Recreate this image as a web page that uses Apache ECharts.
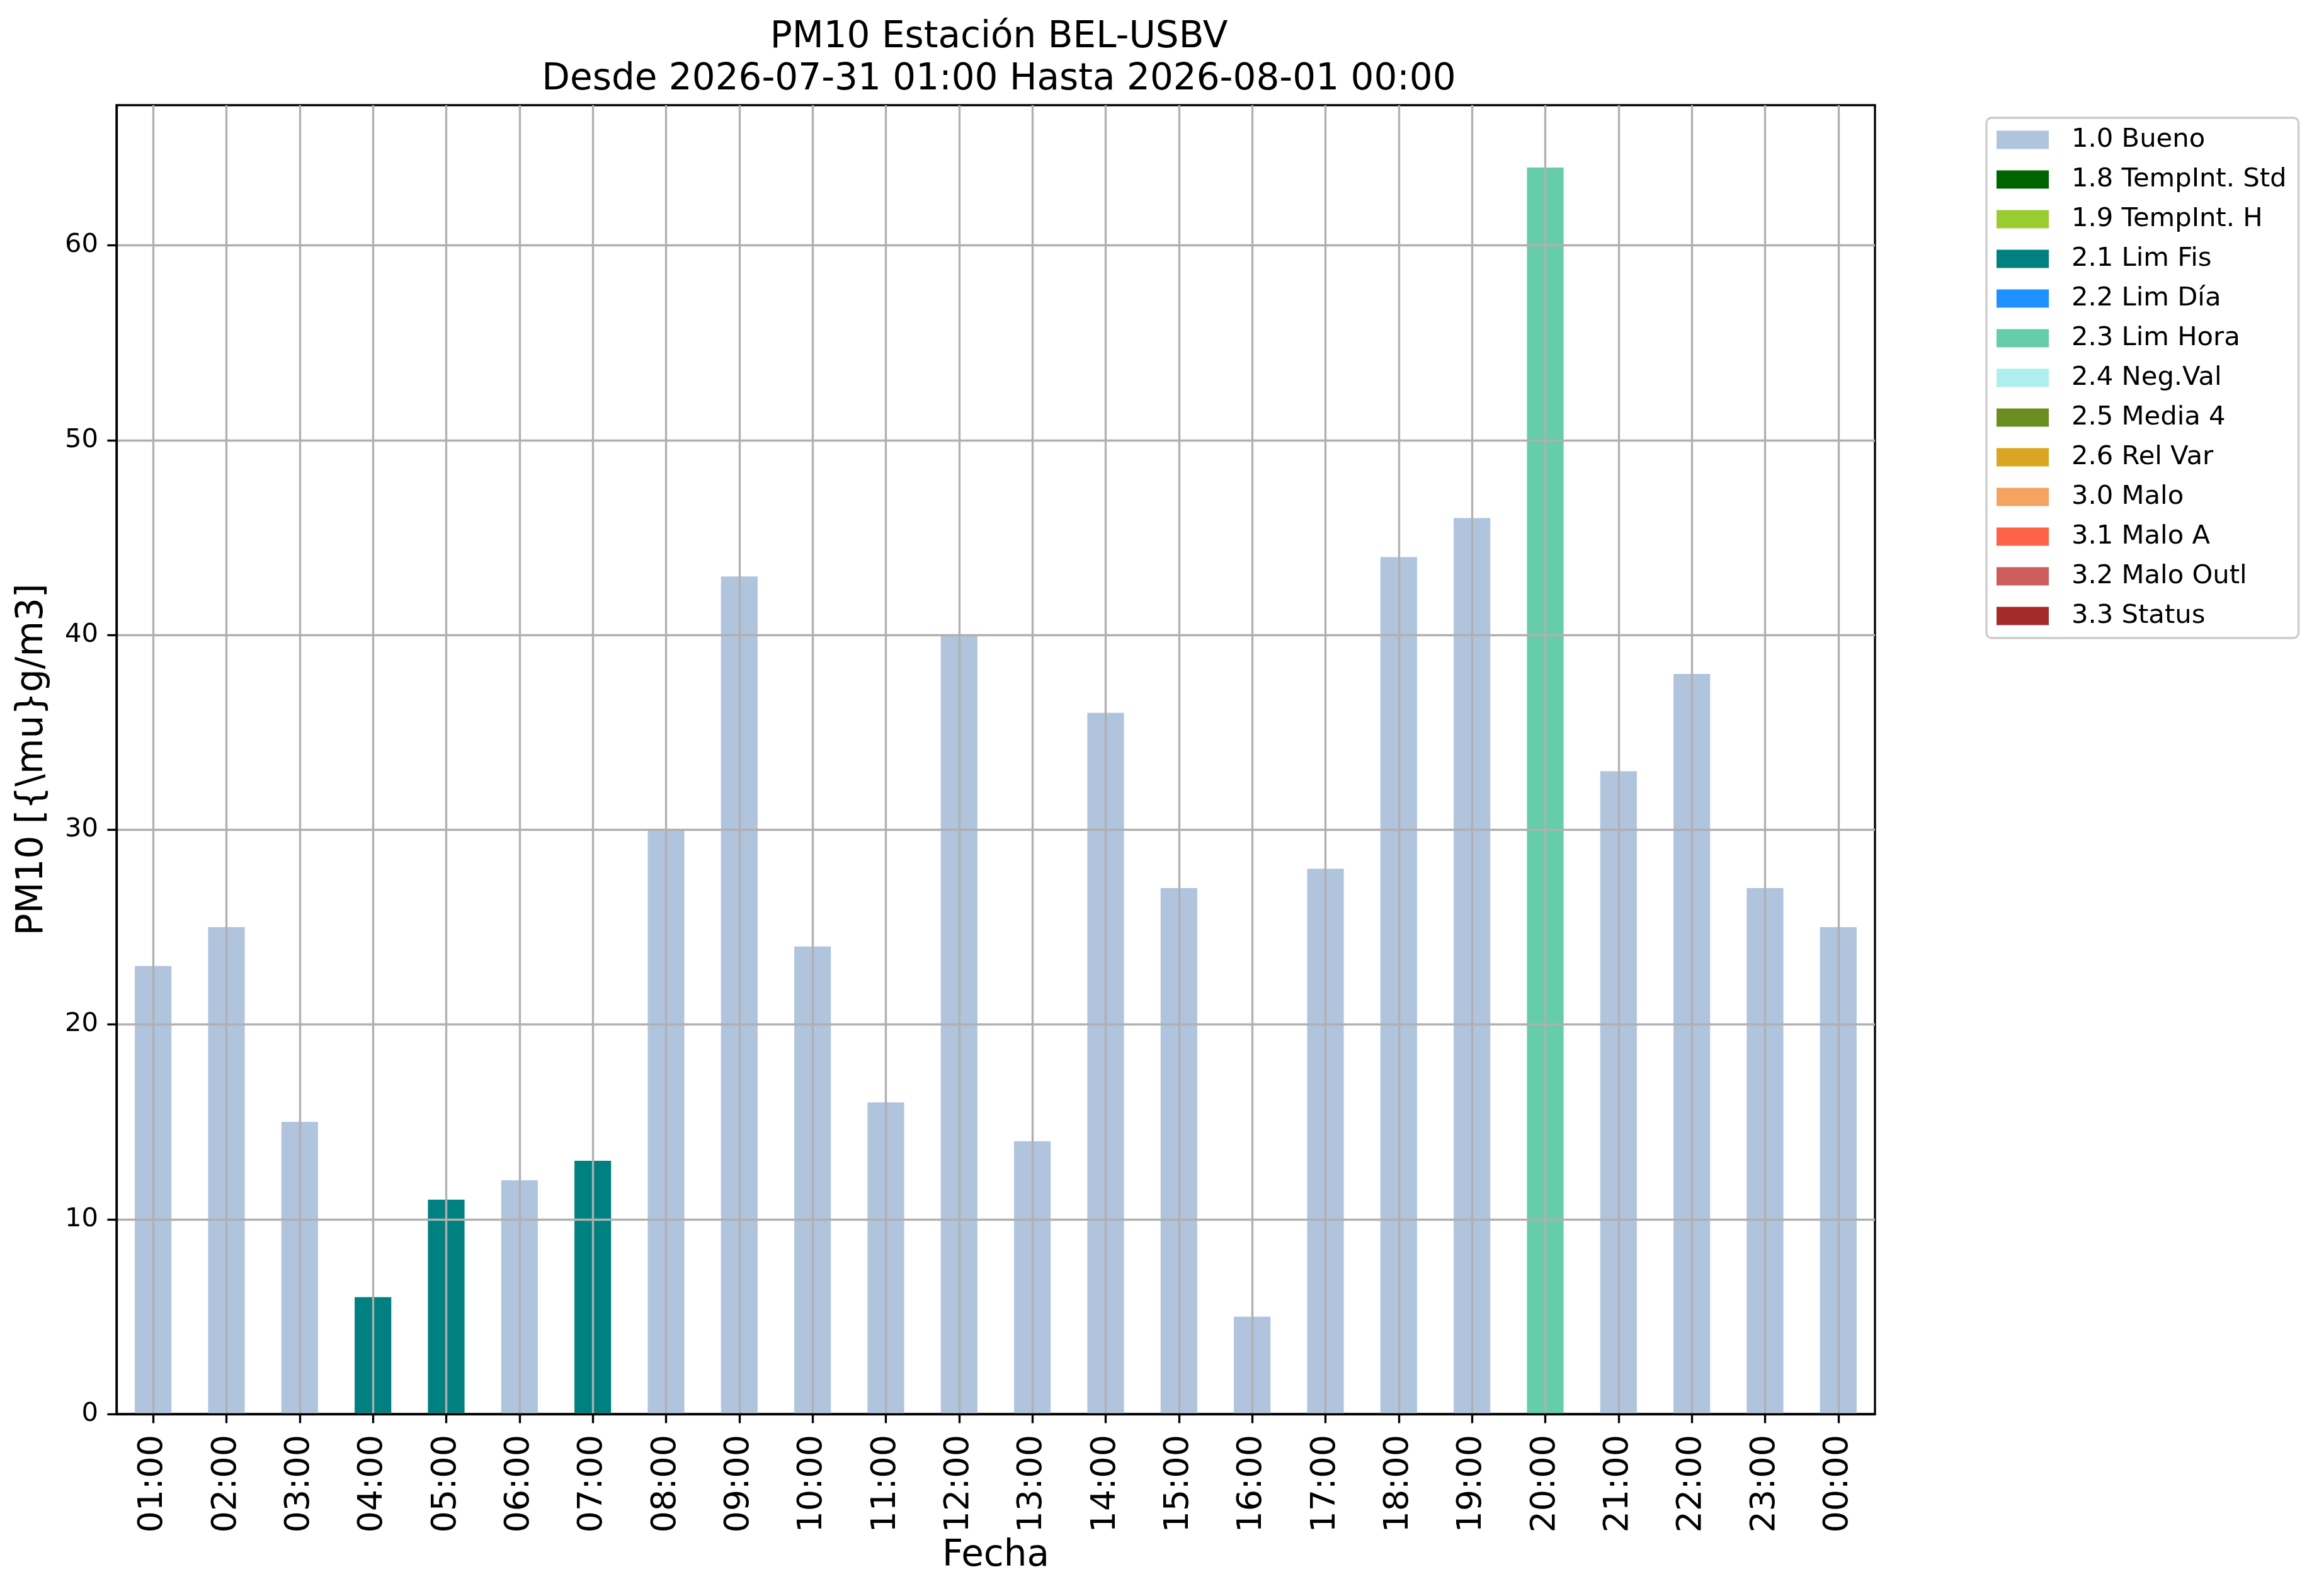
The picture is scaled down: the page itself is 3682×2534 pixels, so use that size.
<!DOCTYPE html>
<html>
<head>
<meta charset="utf-8">
<script src="https://cdn.jsdelivr.net/npm/echarts@6/dist/echarts.min.js"></script>
<style>
html,body{margin:0;padding:0;background:#fff;}
#chart{width:3682px;height:2534px;}
</style>
</head>
<body>
<div id="chart"></div>
<script>
const categories = ['01:00','02:00','03:00','04:00','05:00','06:00','07:00','08:00','09:00','10:00','11:00','12:00','13:00','14:00','15:00','16:00','17:00','18:00','19:00','20:00','21:00','22:00','23:00','00:00'];
const values = [23,25,15,6,11,12,13,30,43,24,16,40,14,36,27,5,28,44,46,64,33,38,27,25];
const flags = ['1.0 Bueno','1.0 Bueno','1.0 Bueno','2.1 Lim Fis','2.1 Lim Fis','1.0 Bueno','2.1 Lim Fis','1.0 Bueno','1.0 Bueno','1.0 Bueno','1.0 Bueno','1.0 Bueno','1.0 Bueno','1.0 Bueno','1.0 Bueno','1.0 Bueno','1.0 Bueno','1.0 Bueno','1.0 Bueno','2.3 Lim Hora','1.0 Bueno','1.0 Bueno','1.0 Bueno','1.0 Bueno'];
const flagNames = ['1.0 Bueno','1.8 TempInt. Std','1.9 TempInt. H','2.1 Lim Fis','2.2 Lim Día','2.3 Lim Hora','2.4 Neg.Val','2.5 Media 4','2.6 Rel Var','3.0 Malo','3.1 Malo A','3.2 Malo Outl','3.3 Status'];
const flagColors = ['#B0C4DE','#006400','#9ACD32','#008080','#1E90FF','#66CDAA','#AFEEEE','#6B8E23','#DAA520','#F4A460','#FF6347','#CD5C5C','#A52A2A'];
const yTicks = [0,10,20,30,40,50,60];
const xPositions = categories.map((c,i)=>i);
const titleText = 'PM10 Estación BEL-USBV\nDesde 2026-07-31 01:00 Hasta 2026-08-01 00:00';
const yName = 'PM10 [{\\mu}g/m3]';
const xName = 'Fecha';

const FONT = 'DejaVu Sans';
const LW = 3.33;
const chart = echarts.init(document.getElementById('chart'), null, {renderer:'canvas'});

const series = flagNames.map((name,k)=>({
  name: name,
  type: 'bar',
  stack: 'flag',
  xAxisIndex: 0,
  yAxisIndex: 0,
  barWidth: '50%',
  z: 2,
  itemStyle: {color: flagColors[k]},
  emphasis: {disabled: true},
  data: values.map((v,i)=> flags[i]===name ? v : '-')
}));

chart.setOption({
  animation: false,
  backgroundColor: '#ffffff',
  textStyle: {fontFamily: FONT},
  title: {
    text: titleText,
    left: 1581,
    top: 21,
    textAlign: 'center',
    textStyle: {fontFamily: FONT, fontSize: 58, fontWeight: 'normal', color: '#000', lineHeight: 67}
  },
  legend: {
    orient: 'vertical',
    left: 3154,
    top: 187,
    icon: 'rect',
    itemWidth: 83,
    itemHeight: 29,
    itemGap: 21,
    padding: [14, 19, 14, 16],
    borderColor: '#cccccc',
    borderWidth: LW,
    borderRadius: 8,
    backgroundColor: '#ffffff',
    selectedMode: false,
    data: flagNames,
    textStyle: {fontFamily: FONT, fontSize: 41.7, color: '#000', lineHeight: 42, padding: [0,0,0,31]}
  },
  grid: {
    left: 185, top: 167, right: 705, bottom: 289,
    show: true, borderColor: '#000', borderWidth: LW, backgroundColor: '#fff'
  },
  xAxis: [{
    type: 'category',
    data: categories,
    z: 3,
    boundaryGap: true,
    name: xName,
    nameLocation: 'middle',
    nameGap: 190,
    nameTextStyle: {fontFamily: FONT, fontSize: 58, color: '#000'},
    axisLine: {show: true, onZero: false, lineStyle: {color: '#000', width: LW}},
    axisTick: {show: true, alignWithLabel: true, length: 14.6, lineStyle: {color: '#000', width: LW}},
    axisLabel: {show: true, rotate: 90, margin: 33, fontFamily: FONT, fontSize: 54, color: '#000', interval: 0},
    splitLine: {show: false}
  },{
    type: 'value',
    min: -0.5,
    max: 23.5,
    z: 3,
    position: 'bottom',
    axisLine: {show: false, onZero: false},
    axisTick: {show: false, customValues: xPositions},
    axisLabel: {show: false, customValues: xPositions},
    splitLine: {show: true, lineStyle: {color: '#b0b0b0', width: LW}}
  }],
  yAxis: {
    type: 'value',
    min: 0,
    max: 67.2,
    z: 3,
    position: 'left',
    name: yName,
    nameLocation: 'middle',
    nameGap: 104,
    nameTextStyle: {fontFamily: FONT, fontSize: 58, color: '#000'},
    axisLine: {show: true, onZero: false, lineStyle: {color: '#000', width: LW}},
    axisTick: {show: true, length: 14.6, customValues: yTicks, lineStyle: {color: '#000', width: LW}},
    axisLabel: {show: true, margin: 29, customValues: yTicks, fontFamily: FONT, fontSize: 41.7, color: '#000'},
    splitLine: {show: true, lineStyle: {color: '#b0b0b0', width: LW}}
  },
  series: series
});
</script>
</body>
</html>
